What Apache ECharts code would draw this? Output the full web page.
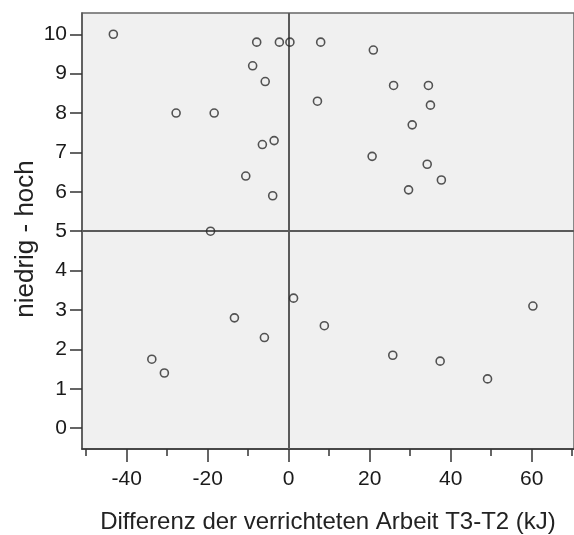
<!DOCTYPE html>
<html>
<head>
<meta charset="utf-8">
<script src="https://cdn.jsdelivr.net/npm/echarts@6/dist/echarts.min.js"></script>
<style>html,body{margin:0;padding:0;background:#fff}#c{width:574px;height:535px}</style>
</head>
<body>
<div id="c"></div>
<script>
// Data
var xValues = [-43.3, -7.9, -2.3, 0.3, -8.9, -5.8, -27.8, -18.4, -6.5, -3.6, -10.6, -3.95, -19.3,
               7.9, 20.9, 25.9, 34.5, 35.0, 7.1, 30.5, 20.6, 34.2, 37.7, 29.6,
               -33.8, -30.7, -13.4, -6.0, 1.2,
               8.8, 25.7, 37.4, 49.1, 60.3];
var yValues = [10.0, 9.8, 9.8, 9.8, 9.2, 8.8, 8.0, 8.0, 7.2, 7.3, 6.4, 5.9, 5.0,
               9.8, 9.6, 8.7, 8.7, 8.2, 8.3, 7.7, 6.9, 6.7, 6.3, 6.05,
               1.75, 1.4, 2.8, 2.3, 3.3,
               2.6, 1.85, 1.7, 1.25, 3.1];
var xTickLabels = [-40, -20, 0, 20, 40, 60];
var xMinorTicks = [-50, -30, -10, 10, 30, 50, 70];
var yTickLabels = [0, 1, 2, 3, 4, 5, 6, 7, 8, 9, 10];
var xRefLine = 0;
var yRefLine = 5;
var xTitle = 'Differenz der verrichteten Arbeit T3-T2 (kJ)';
var yTitle = 'niedrig - hoch';

var points = xValues.map(function (x, i) { return [x, yValues[i]]; });
var font = "'Liberation Sans', Arial, sans-serif";

var chart = echarts.init(document.getElementById('c'), null, {renderer: 'canvas'});
chart.setOption({
  animation: false,
  backgroundColor: '#ffffff',
  grid: {
    left: 82, top: 13, right: 0, bottom: 86,
    containLabel: false, outerBoundsMode: 'none',
    show: true, backgroundColor: '#f0f0f0', borderColor: '#666', borderWidth: 1.5
  },
  xAxis: [{
    type: 'value', min: -51.04, max: 70.45,
    position: 'bottom',
    name: xTitle, nameLocation: 'middle', nameGap: 61, nameMoveOverlap: false,
    nameTextStyle: {fontFamily: font, fontSize: 24, color: '#222'},
    axisLine: {show: true, onZero: false, lineStyle: {color: '#333', width: 1.5}},
    axisTick: {show: true, customValues: xTickLabels, length: 13, lineStyle: {color: '#333', width: 1.5}},
    axisLabel: {show: true, customValues: xTickLabels, margin: 20, fontFamily: font, fontSize: 21, color: '#1a1a1a'},
    splitLine: {show: false}
  }, {
    type: 'value', min: -51.04, max: 70.45,
    position: 'bottom', gridIndex: 0,
    axisLine: {show: false, onZero: false},
    axisTick: {show: true, customValues: xMinorTicks, length: 7, lineStyle: {color: '#333', width: 1.5}},
    axisLabel: {show: false},
    splitLine: {show: false}
  }],
  yAxis: [{
    type: 'value', min: -0.53, max: 10.54,
    position: 'left',
    name: yTitle, nameLocation: 'middle', nameGap: 43, nameRotate: 90, nameMoveOverlap: false,
    nameTextStyle: {fontFamily: font, fontSize: 26, color: '#222', padding: [0, 16, 0, 0]},
    axisLine: {show: true, onZero: false, lineStyle: {color: '#555', width: 1.5}},
    axisTick: {show: true, customValues: yTickLabels, length: 12, lineStyle: {color: '#333', width: 1.5}},
    axisLabel: {show: true, customValues: yTickLabels, margin: 15, fontFamily: font, fontSize: 21, color: '#1a1a1a'},
    splitLine: {show: false}
  }],
  series: [{
    type: 'scatter',
    xAxisIndex: 0, yAxisIndex: 0,
    data: points,
    symbol: 'circle', symbolSize: 8,
    itemStyle: {color: 'rgba(0,0,0,0)', borderColor: '#2a2a2a', borderWidth: 1.6},
    z: 5,
    markLine: {
      silent: true, symbol: 'none', label: {show: false},
      lineStyle: {color: '#5a5a5a', width: 2, type: 'solid'},
      data: [{xAxis: xRefLine}, {yAxis: yRefLine}],
      z: 3
    }
  }]
});
</script>
</body>
</html>
